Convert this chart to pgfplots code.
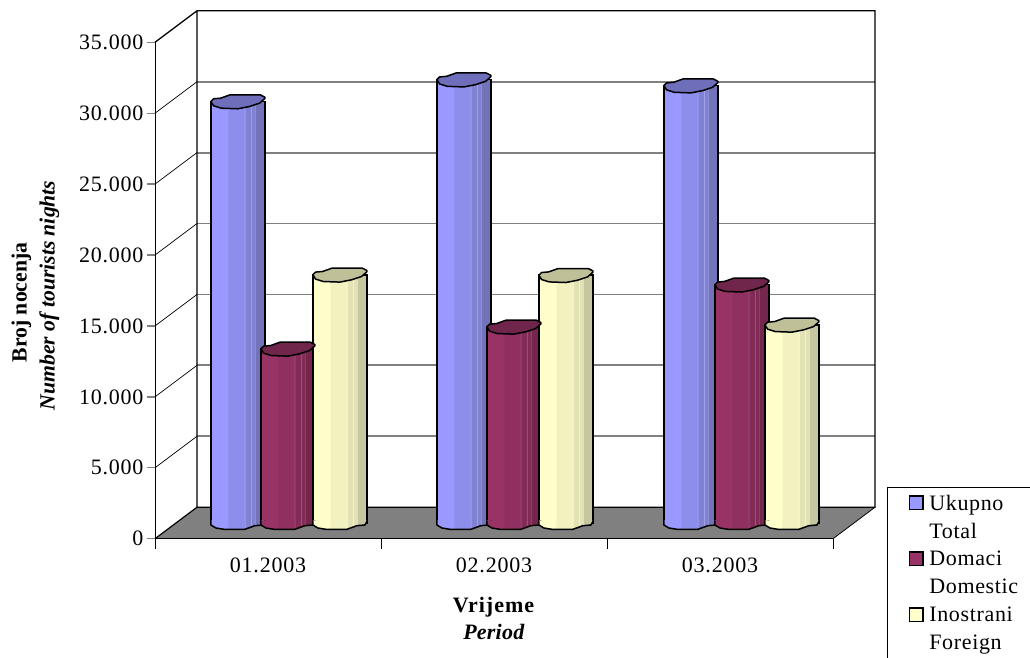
\documentclass[border=0pt]{standalone}
\usepackage{fontspec}
\setmainfont{Liberation Serif}
\usepackage{pgfplots}
\pgfplotsset{compat=1.18}

\definecolor{cblue}{HTML}{9999FF}
\definecolor{cblueb}{HTML}{8D8DEB}
\definecolor{cbluec}{HTML}{8181D2}
\definecolor{cblued}{HTML}{7373BA}
\definecolor{cbluel}{HTML}{A6A6EE}
\definecolor{cbluet}{HTML}{6E6EBA}
\definecolor{cmar}{HTML}{993366}
\definecolor{cmarb}{HTML}{8F3060}
\definecolor{cmarc}{HTML}{812B56}
\definecolor{cmard}{HTML}{74264D}
\definecolor{cmarl}{HTML}{A8557F}
\definecolor{cmart}{HTML}{70254B}
\definecolor{cyel}{HTML}{FFFFCC}
\definecolor{cyelb}{HTML}{F2F2C0}
\definecolor{cyelc}{HTML}{E2E2B4}
\definecolor{cyeld}{HTML}{C6C6A0}
\definecolor{cyell}{HTML}{F6F6D8}
\definecolor{cyelt}{HTML}{BFBF98}
\definecolor{floorgray}{HTML}{808080}

% stepped cylinder shading, path fits between 25bp and 75bp
\newcommand{\cylshade}[6]{%
  \pgfdeclarehorizontalshading{#1}{100bp}{%
    color(0bp)=(#2); color(25bp)=(#2); color(40bp)=(#2);
    color(41.5bp)=(#3); color(55.5bp)=(#3);
    color(56bp)=(#6); color(56.7bp)=(#3); color(57.5bp)=(#4);
    color(61.5bp)=(#4); color(62bp)=(#6); color(62.7bp)=(#4);
    color(65bp)=(#4); color(65.5bp)=(#6); color(66.2bp)=(#5);
    color(75bp)=(#5); color(100bp)=(#5)}}
\cylshade{cylblue}{cblue}{cblueb}{cbluec}{cblued}{cbluel}
\cylshade{cylmar}{cmar}{cmarb}{cmarc}{cmard}{cmarl}
\cylshade{cylyel}{cyel}{cyelb}{cyelc}{cyeld}{cyell}

\newcommand{\pp}[3]{#1{\pgfqpoint{#2pt}{#3pt}}}
% lumpy top of a cylinder
\pgfdeclareplotmark{cyltop}{%
  \pgfsetroundjoin
  \pp\pgfpathmoveto{-27}{0}\pp\pgfpathlineto{-24.3}{2.7}\pp\pgfpathlineto{-17.3}{3.3}%
  \pp\pgfpathlineto{-7.7}{6.7}\pp\pgfpathlineto{22.3}{6.7}\pp\pgfpathlineto{27}{4.3}%
  \pp\pgfpathlineto{27}{3}\pp\pgfpathlineto{21.7}{-1.7}\pp\pgfpathlineto{11.7}{-5}%
  \pp\pgfpathlineto{0}{-7.3}\pp\pgfpathlineto{-16.7}{-6.7}\pp\pgfpathlineto{-24.3}{-4.3}%
  \pgfpathclose\pgfusepathqfillstroke}
% lower edge of a cylinder, shaded like the body
\newcommand{\botfill}{%
  \pp\pgfpathmoveto{-27}{2.5}\pp\pgfpathlineto{-27}{-2}\pp\pgfpathlineto{-22}{-5}%
  \pp\pgfpathlineto{-14}{-6.3}\pp\pgfpathlineto{7}{-6.3}\pp\pgfpathlineto{17}{-2.7}%
  \pp\pgfpathlineto{25}{-2}\pp\pgfpathlineto{27}{1.3}\pp\pgfpathlineto{27}{2.5}}
\newcommand{\cylbotmark}[1]{%
  \pgfdeclareplotmark{bot#1}{%
    \pgfsetroundjoin
    \pgfscope\botfill\pgfpathclose\pgfshadepath{#1}{0}\endpgfscope
    \pgfusepath{discard}%
    \botfill\pgfusepathqstroke}}
\cylbotmark{cylblue}\cylbotmark{cylmar}\cylbotmark{cylyel}

% x group, value, shift, shading, cap colour
\newcommand{\cyl}[5]{%
  \addplot[forget plot, ybar, bar width=54pt, bar shift=#3pt, draw=black, line width=1.5pt,
    shade, shading=#4] coordinates {(#1,#2)};
  \addplot[forget plot, only marks, mark=bot#4,
    mark options={xshift=#3pt, draw=black, line width=1.5pt}] coordinates {(#1,0)};
  \addplot[forget plot, only marks, mark=cyltop,
    mark options={xshift=#3pt, draw=black, fill=#5, line width=1.5pt}] coordinates {(#1,#2)};
}
% front value, back value
\newcommand{\wallline}[2]{%
  \addplot[forget plot, floorgray, line width=1.8pt] coordinates {(0.1858,#2) (3.1858,#2)};
  \addplot[forget plot, black, line width=0.7pt] coordinates {(0,#1) (0.1858,#2)};
}
\newcommand{\ls}[1]{\addfontfeature{LetterSpace=#1}}
\pgfplotsset{
  base/.style={
    at={(155pt,119.3pt)}, anchor=south west, scale only axis,
    width=678pt, height=496.4pt, clip=false},
  legimg/.style={legend image code/.code={
    \path[draw=none] (0pt,0pt) -- (20pt,0pt);
    \draw[black, line width=1.4pt, fill=#1] (2pt,-6pt) rectangle (15.5pt,7.5pt);}},
}

\begin{document}
\begin{tikzpicture}
\path[use as bounding box, clip] (0pt,0pt) rectangle (1030pt,658pt);

\begin{axis}[base,
    xmin=0, xmax=3, ymin=0, ymax=35000,
    axis x line*=bottom, axis y line*=left,
    axis line style={-, black, line width=0.8pt},
    xtick={0.5,1.5,2.5},
    xticklabels={01.2003,02.2003,03.2003},
    major x tick style={draw=none},
    minor xtick={0,1,2,3},
    minor tick length=10pt,
    minor x tick style={black, line width=0.8pt},
    ytick={0,5000,...,35000},
    scaled y ticks=false,
    major tick length=8pt,
    y tick style={floorgray, line width=1.4pt},
    tick align=outside,
    /pgf/number format/assume math mode=true,
    /pgf/number format/fixed,
    /pgf/number format/1000 sep={.},
    tick label style={font=\fontsize{22}{24}\selectfont\ls{3.5}},
    xticklabel style={yshift=-8pt},
    xlabel={\textbf{\ls{4.5}Vrijeme}\\\textbf{\textit{\ls{1}Period}}},
    xlabel style={at={(axis description cs:0.5,-0.111)}, anchor=north, align=center,
      font=\fontsize{22}{27}\selectfont},
    ylabel={\textbf{Broj nocenja}\hspace*{14pt}\\\textbf{\textit{Number of tourists nights}}},
    ylabel style={at={(axis description cs:-0.1765,0.49)}, anchor=center, rotate=0, align=center,
      font=\fontsize{21.7}{28}\selectfont},
]
\addplot[forget plot, fill=floorgray, draw=none]
  coordinates {(0,0) (0.1858,2221) (3.1858,2221) (3,0)} -- cycle;
\wallline{5000}{7221}
\wallline{10000}{12221}
\wallline{15000}{17221}
\wallline{20000}{22221}
\wallline{25000}{27221}
\wallline{30000}{32221}
% outline of back wall and floor
\addplot[forget plot, black, line width=1.3pt]
  coordinates {(0,35000) (0.1858,37221) (3.1858,37221) (3.1858,2221) (0.1858,2221) (0.1858,37221)};
\addplot[forget plot, black, line width=1.2pt] coordinates {(0,0) (0.1858,2221)};
\addplot[forget plot, black, line width=0.8pt] coordinates {(3,0) (3.1858,2221)};
\addplot[forget plot, black, line width=1pt] coordinates {(0,0) (3,0)};
\end{axis}

\begin{axis}[base, hide axis,
    xmin=-0.588, xmax=2.412, ymin=-1107, ymax=33893,
    legend style={at={(axis description cs:1.0796,0.104)}, anchor=north west,
      draw=black, line width=0.7pt, inner xsep=20pt, inner ysep=2pt, row sep=0pt,
      font=\fontsize{22}{28}\selectfont\ls{3},
      nodes={minimum height=28pt, inner ysep=0pt}},
    legend cell align=left,
]
\cyl{0}{29720}{-50}{cylblue}{cbluet}
\cyl{0}{12280}{0}{cylmar}{cmart}
\cyl{0}{17500}{52}{cylyel}{cyelt}
\cyl{1}{31260}{-50}{cylblue}{cbluet}
\cyl{1}{13830}{0}{cylmar}{cmart}
\cyl{1}{17470}{52}{cylyel}{cyelt}
\cyl{2}{30840}{-49}{cylblue}{cbluet}
\cyl{2}{16800}{2}{cylmar}{cmart}
\cyl{2}{13970}{52}{cylyel}{cyelt}
\addlegendimage{legimg=cblue}\addlegendentry{Ukupno}
\addlegendimage{empty legend}\addlegendentry{Total}
\addlegendimage{legimg=cmar}\addlegendentry{Domaci}
\addlegendimage{empty legend}\addlegendentry{Domestic}
\addlegendimage{legimg=cyel}\addlegendentry{Inostrani}
\addlegendimage{empty legend}\addlegendentry{Foreign}
\end{axis}
\end{tikzpicture}
\end{document}
